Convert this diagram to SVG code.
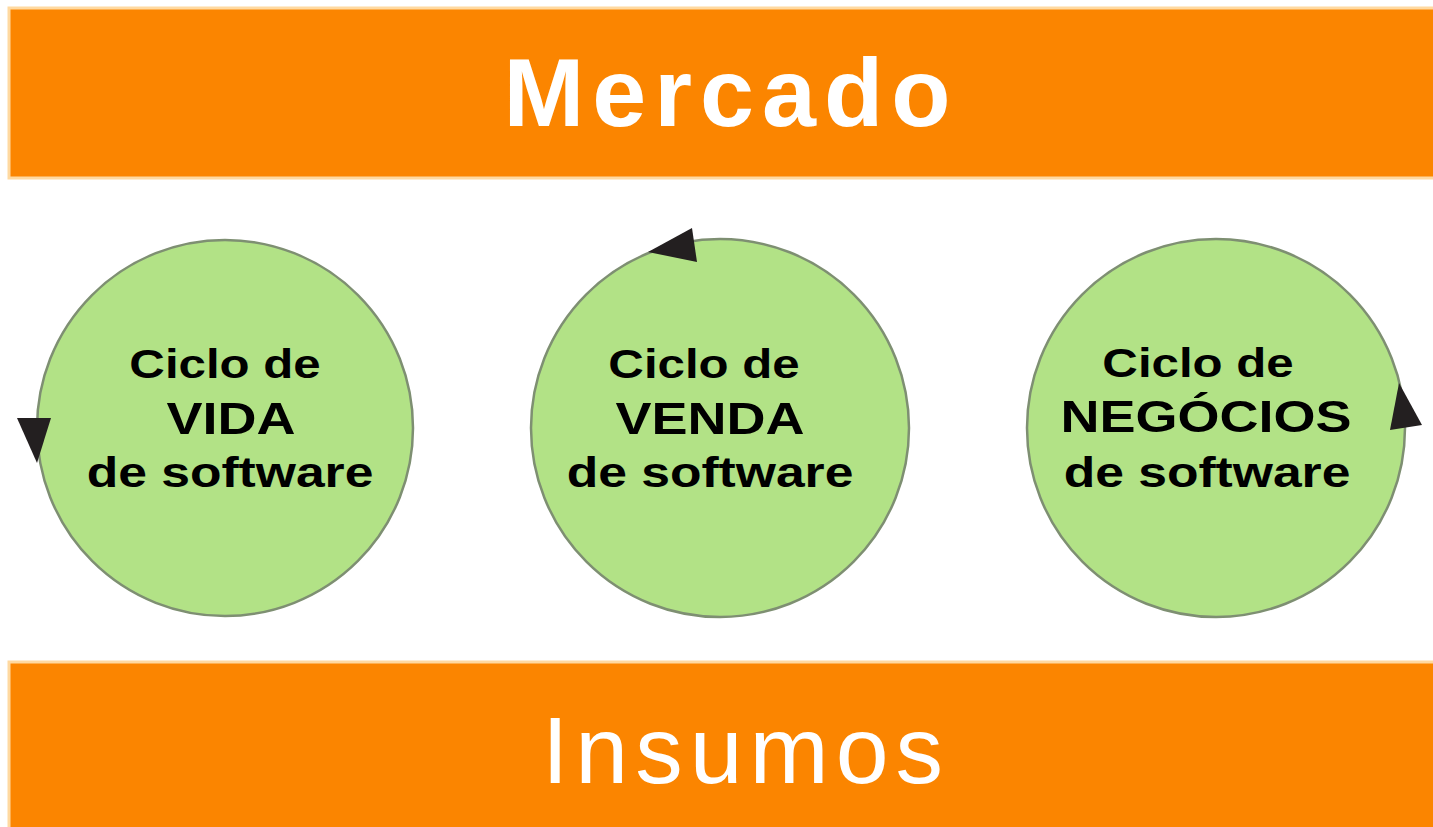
<svg xmlns="http://www.w3.org/2000/svg" width="1433" height="827" viewBox="0 0 1433 827">
<style>
.banner{fill:#FB8500;stroke:#FFD9A0;stroke-width:3}
.cyc{fill:#B2E286;stroke:#7E8F72;stroke-width:2.5}
.t{font-family:"Liberation Sans",Arial,sans-serif;font-weight:bold;fill:#000;text-anchor:middle}
.s{font-size:41px}
.b{font-size:45px}
.w{font-size:43px}
.arr{fill:#231F20}
</style>
<rect width="1433" height="827" fill="#fff"/>
<g id="mercado">
<rect class="banner" x="9" y="8" width="1430" height="170"/>
<text x="731" y="126" font-family="Liberation Sans,Arial,sans-serif" font-weight="bold" font-size="97" fill="#fff" text-anchor="middle" letter-spacing="8">Mercado</text>
</g>
<g id="insumos">
<rect class="banner" x="9" y="662" width="1430" height="170"/>
<text x="746" y="783" font-family="Liberation Sans,Arial,sans-serif" font-size="95" fill="#fff" text-anchor="middle" letter-spacing="7">Insumos</text>
</g>
<g id="ciclo-vida">
<circle class="cyc" cx="225" cy="428" r="188"/>
<text class="t s" transform="translate(225,378) scale(1.2,1)">Ciclo de</text>
<text class="t b" transform="translate(231,434) scale(1.2,1)">VIDA</text>
<text class="t w" transform="translate(230,487) scale(1.2,1)">de software</text>
</g>
<g id="ciclo-venda">
<circle class="cyc" cx="720" cy="428" r="189"/>
<text class="t s" transform="translate(704,378) scale(1.2,1)">Ciclo de</text>
<text class="t b" transform="translate(710,434) scale(1.2,1)">VENDA</text>
<text class="t w" transform="translate(710,487) scale(1.2,1)">de software</text>
</g>
<g id="ciclo-negocios">
<circle class="cyc" cx="1216" cy="428" r="189"/>
<text class="t s" transform="translate(1198,377) scale(1.2,1)">Ciclo de</text>
<text class="t b" transform="translate(1206,432) scale(1.2,1)">NEGÓCIOS</text>
<text class="t w" transform="translate(1207,487) scale(1.2,1)">de software</text>
</g>
<g id="connectors">
<polygon class="arr" points="17,418 51,418 37,463"/>
<polygon class="arr" points="648,252 692,228 697,262"/>
<polygon class="arr" points="1399,383 1422,425 1390,430"/>
</g>
</svg>
